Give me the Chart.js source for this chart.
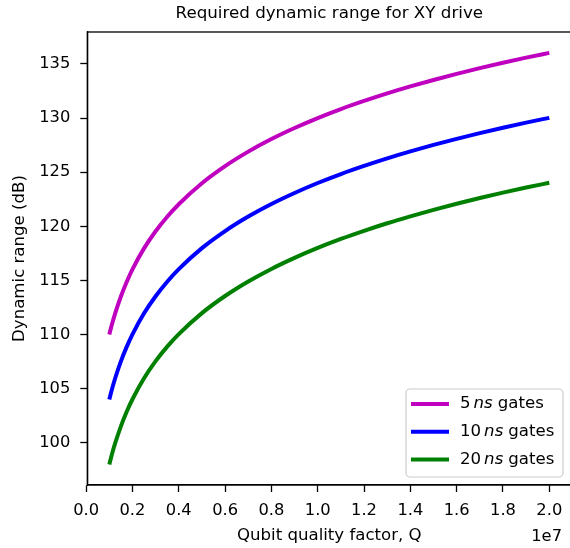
<!DOCTYPE html>
<html>
<head>
<meta charset="utf-8">
<script src="https://cdn.jsdelivr.net/npm/chart.js@4/dist/chart.umd.min.js"></script>
<style>
  html, body { margin: 0; padding: 0; background: #fff; overflow: hidden; }
  #wrap { width: 570px; height: 548px; overflow: hidden; }
  #wrap canvas { display: block; }
</style>
</head>
<body>
<div id="wrap"><canvas id="chart" width="580" height="548"></canvas></div>
<script>
// Qubit quality factor (Q) samples and required dynamic range (dB)
const qValues = [1.0e6, 1.1e6, 1.25e6, 1.5e6, 1.75e6, 2e6, 2.5e6, 3e6, 3.5e6, 4e6, 5e6, 6e6, 7e6,
  8e6, 9e6, 1.0e7, 1.1e7, 1.2e7, 1.3e7, 1.4e7, 1.5e7, 1.6e7, 1.7e7, 1.8e7, 1.9e7, 2.0e7];
const range5ns = [110.00, 110.83, 111.94, 113.52, 114.86, 116.02, 117.96, 119.54, 120.88, 122.04, 123.98, 125.56, 126.90,
  128.06, 129.08, 130.00, 130.83, 131.58, 132.28, 132.92, 133.52, 134.08, 134.61, 135.11, 135.58, 136.02];
const range10ns = [104.00, 104.83, 105.94, 107.52, 108.86, 110.02, 111.96, 113.54, 114.88, 116.04, 117.98, 119.56, 120.90,
  122.06, 123.08, 124.00, 124.83, 125.58, 126.28, 126.92, 127.52, 128.08, 128.61, 129.11, 129.58, 130.02];
const range20ns = [98.00, 98.83, 99.94, 101.52, 102.86, 104.02, 105.96, 107.54, 108.88, 110.04, 111.98, 113.56, 114.90,
  116.06, 117.08, 118.00, 118.83, 119.58, 120.28, 120.92, 121.52, 122.08, 122.61, 123.11, 123.58, 124.02];
const gateLabels = ['5', '10', '20'];
const seriesColors = ['#bf00bf', '#0000ff', '#008000'];
const xTicks = [0, 0.2e7, 0.4e7, 0.6e7, 0.8e7, 1.0e7, 1.2e7, 1.4e7, 1.6e7, 1.8e7, 2.0e7];
const yTicks = [100, 105, 110, 115, 120, 125, 130, 135];

const FONT = "'DejaVu Sans', sans-serif";

const toPoints = (ys) => qValues.map((q, i) => ({ x: q, y: ys[i] }));

const datasets = [range5ns, range10ns, range20ns].map((ys, i) => ({
  label: gateLabels[i] + ' ns gates',
  data: toPoints(ys),
  borderColor: seriesColors[i],
  borderWidth: 4,
  pointRadius: 0,
  fill: false,
  showLine: true,
  cubicInterpolationMode: 'monotone',
  borderCapStyle: 'butt'
}));

// frame, title, offset text and legend
const decorations = {
  id: 'decorations',
  afterDraw(chart) {
    const { ctx, chartArea: a } = chart;
    ctx.save();
    ctx.strokeStyle = '#000';
    ctx.lineWidth = 1.3;
    ctx.strokeRect(a.left, a.top, a.right - a.left, a.bottom - a.top);

    ctx.fillStyle = '#000';
    ctx.font = '16.7px ' + FONT;
    ctx.textAlign = 'center';
    ctx.textBaseline = 'middle';
    ctx.fillText('Required dynamic range for XY drive', (a.left + a.right) / 2, 14);

    ctx.font = '16.3px ' + FONT;
    ctx.textAlign = 'right';
    ctx.fillText('1e7', 562, 537);

    // legend box
    const bx = 406, by = 389, bw = 157, bh = 88, r = 4;
    ctx.beginPath();
    ctx.moveTo(bx + r, by);
    ctx.arcTo(bx + bw, by, bx + bw, by + bh, r);
    ctx.arcTo(bx + bw, by + bh, bx, by + bh, r);
    ctx.arcTo(bx, by + bh, bx, by, r);
    ctx.arcTo(bx, by, bx + bw, by, r);
    ctx.closePath();
    ctx.fillStyle = 'rgba(255,255,255,0.8)';
    ctx.fill();
    ctx.strokeStyle = '#cccccc';
    ctx.lineWidth = 1.2;
    ctx.stroke();

    ctx.textAlign = 'left';
    ctx.textBaseline = 'middle';
    gateLabels.forEach((g, i) => {
      const y = 404 + i * 27.7;
      ctx.strokeStyle = seriesColors[i];
      ctx.lineWidth = 4;
      ctx.beginPath();
      ctx.moveTo(411, y);
      ctx.lineTo(449, y);
      ctx.stroke();
      ctx.fillStyle = '#000';
      let x = 460;
      ctx.font = '16.6px ' + FONT;
      ctx.fillText(g, x, y);
      x += ctx.measureText(g).width + 3;
      ctx.font = 'italic 16.6px ' + FONT;
      ctx.fillText('ns', x, y);
      x += ctx.measureText('ns').width + 5;
      ctx.font = '16.6px ' + FONT;
      ctx.fillText('gates', x, y);
    });
    ctx.restore();
  }
};

new Chart(document.getElementById('chart'), {
  type: 'scatter',
  data: { datasets },
  plugins: [decorations],
  options: {
    responsive: false,
    animation: false,
    layout: { padding: { top: 32, right: 8.7, left: 0, bottom: 0 } },
    plugins: { legend: { display: false }, tooltip: { enabled: false } },
    scales: {
      x: {
        type: 'linear',
        min: 0.05e6,
        max: 2.095e7,
        afterFit: (s) => { s.height = 63; },
        afterBuildTicks: (s) => { s.ticks = xTicks.map(v => ({ value: v })); },
        grid: { drawOnChartArea: false, drawTicks: true, tickLength: 7, tickColor: '#000', tickWidth: 1.3 },
        border: { display: true, color: '#000', width: 1.3 },
        ticks: {
          color: '#000',
          font: { family: FONT, size: 16.3 },
          padding: 9,
          maxRotation: 0,
          autoSkip: false,
          callback: (v) => (v / 1e7).toFixed(1)
        },
        title: { display: true, text: 'Qubit quality factor, Q', color: '#000', font: { family: FONT, size: 16.6 }, padding: { top: 2, bottom: 2 } }
      },
      y: {
        type: 'linear',
        min: 96.1,
        max: 137.95,
        afterFit: (s) => { s.width = 87.3; },
        afterBuildTicks: (s) => { s.ticks = yTicks.map(v => ({ value: v })); },
        grid: { drawOnChartArea: false, drawTicks: true, tickLength: 7, tickColor: '#000', tickWidth: 1.3 },
        border: { display: true, color: '#000', width: 1.3 },
        ticks: {
          color: '#000',
          font: { family: FONT, size: 16.3 },
          padding: 10,
          autoSkip: false,
          callback: (v) => String(v)
        },
        title: { display: true, text: 'Dynamic range (dB)', color: '#000', font: { family: FONT, size: 16.6 }, padding: { top: 10, bottom: 0 } }
      }
    }
  }
});
</script>
</body>
</html>
